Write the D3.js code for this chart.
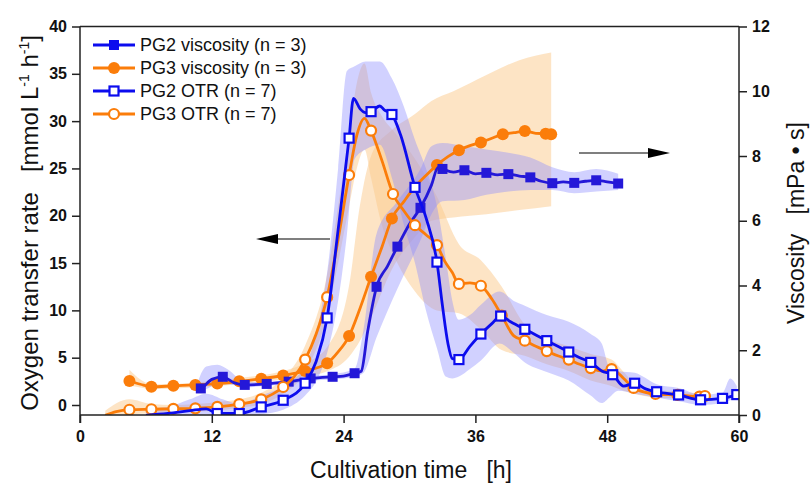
<!DOCTYPE html>
<html>
<head>
<meta charset="utf-8">
<script src="https://cdn.jsdelivr.net/npm/d3@7"></script>
<style>
  body { margin: 0; background: #fff; }
  text { font-family: Arial, "Liberation Sans", sans-serif; }
</style>
</head>
<body>
<div id="chart"></div>
<script>
// axis ticks
const hourTicks = [0, 12, 24, 36, 48, 60];
const otrTicks = [0, 5, 10, 15, 20, 25, 30, 35, 40];
const viscTicks = [0, 2, 4, 6, 8, 10, 12];

// mean curves: [hour, value, marker shown]
const pg2Otr = [[6,-1.1,0],[8,-0.9,0],[10,-0.6,0],[11.5,-0.4,0],[12.5,-0.9,1],[14.5,-0.9,1],[16.5,-0.2,1],[18.5,0.5,1],[20.5,2.3,1],[21.5,4.6,0],[22.5,9.2,1],[23.5,18.5,0],[24.5,28.2,1],[24.9,32.4,0],[25.5,31.3,0],[26,30.9,0],[26.5,31.0,1],[27.3,31.6,0],[27.7,31.2,0],[28.4,30.7,1],[29.2,28.5,0],[30.5,23.0,1],[31.5,19.8,0],[32.5,15.1,1],[33.0,10.5,0],[33.5,6.5,0],[33.9,4.9,0],[34.5,4.8,1],[35.5,6.2,0],[36.5,7.5,1],[37.5,8.6,0],[38.3,9.4,1],[39.2,8.8,0],[40.5,8.0,1],[41.5,7.4,0],[42.5,6.8,1],[43.5,6.2,0],[44.5,5.6,1],[45.5,5.0,0],[46.5,4.5,1],[47.5,3.6,0],[48.5,3.2,1],[49.5,2.0,0],[50.5,2.3,1],[51.5,1.7,0],[52.5,1.4,1],[54.5,1.06,1],[56.5,0.55,1],[58.5,0.7,1],[59.8,1.1,1]];
const pg3Otr = [[2.3,-1.1,0],[3.3,-0.7,0],[4.5,-0.5,1],[6.5,-0.45,1],[8.5,-0.4,1],[10.5,-0.35,1],[12.5,-0.2,1],[14.5,0.1,1],[16.5,0.6,1],[18.5,1.9,1],[19.5,3.0,0],[20.5,4.8,1],[21.5,7.5,0],[22.5,11.4,1],[23.5,17.5,0],[24.5,24.3,1],[25.2,28.5,0],[25.9,30.3,0],[26.5,29.0,1],[27.5,25.8,0],[28.5,22.3,1],[29.5,20.5,0],[30.5,19.0,1],[31.5,18.0,0],[32.5,16.9,1],[33.2,15.2,0],[33.9,14.0,0],[34.5,12.8,1],[35.5,12.9,0],[36.5,12.6,1],[37.5,11.2,0],[38.4,9.45,1],[39.5,7.3,0],[40.5,6.8,1],[41.5,6.2,0],[42.5,5.7,1],[43.5,5.2,0],[44.5,4.8,1],[45.5,4.3,0],[46.5,3.9,1],[47.5,3.6,0],[48.4,3.8,1],[49.5,2.8,0],[50.4,1.8,1],[52.4,1.16,1],[54.4,1.06,1],[56.4,0.88,1],[56.9,0.95,1]];
const pg2Visc = [[10.6,0.78,0],[11,0.82,1],[12,1.1,0],[13,1.18,1],[14,1.0,0],[15,0.93,1],[17,0.96,1],[19,1.03,1],[21,1.13,1],[23,1.18,1],[24,1.2,0],[25,1.29,1],[25.6,1.35,0],[26.2,2.6,0],[27,3.96,1],[28,4.6,0],[28.9,5.2,1],[30,5.9,0],[31,6.4,1],[32,7.1,0],[32.6,7.65,0],[33,7.6,1],[34,7.5,0],[35,7.56,1],[36,7.45,0],[37,7.48,1],[38,7.42,0],[39,7.44,1],[40,7.38,0],[41,7.34,1],[42,7.22,0],[43,7.16,1],[44,7.2,0],[45,7.17,1],[46,7.22,0],[47,7.25,1],[48,7.2,0],[49,7.15,1]];
const pg3Visc = [[4.5,1.05,1],[5.5,0.95,0],[6.5,0.87,1],[8.5,0.9,1],[10.5,0.93,1],[12.5,0.97,1],[14.5,1.04,1],[16.5,1.12,1],[18.5,1.22,1],[20.5,1.36,1],[22.5,1.6,1],[23.5,1.95,0],[24.5,2.44,1],[25.5,3.3,0],[26.5,4.27,1],[27.5,5.2,0],[28.4,6.07,1],[29.5,6.6,0],[30.5,7.05,0],[31.5,7.4,0],[32.5,7.72,1],[33.5,7.98,0],[34.5,8.18,1],[35.5,8.32,0],[36.5,8.42,1],[37.5,8.55,0],[38.5,8.67,1],[39.5,8.72,0],[40.5,8.77,1],[41.5,8.7,0],[42.4,8.69,1],[42.9,8.67,1]];

// spread bands: [hour, lower, upper]
const pg2OtrBand = [[6,-1.6,-0.4],[8,-1.5,-0.2],[10,-1.3,0.6],[11.5,-1.0,1.2],[13,-1.6,0.6],[14.5,-1.6,0.1],[16.5,-1.0,1.0],[18.5,-0.5,2.0],[20.5,1.0,4.2],[21.5,2.5,7.5],[22.5,5.5,14],[23.5,11,25],[24.3,18,35.3],[25,26,35.8],[26,27,36.3],[27.3,27.5,36.3],[28.4,24,34.5],[29.5,19,31.5],[30.5,15,28],[31.5,10,25],[32.5,6,21],[33.3,3,15.5],[33.9,2.8,11],[34.5,3.0,9],[35.5,3.8,9.5],[36.5,4.7,10.6],[38.2,6.5,12],[39.5,5.5,11],[40.5,4.5,10.5],[42.5,3.5,9.5],[44.5,2.6,8.8],[46.5,1.0,7.5],[47.5,0.2,6.5],[48.2,0.8,4.0],[49,1.5,3.6],[50.5,1.2,3.4],[52.5,0.8,2.2],[54.5,0.4,1.8],[56.5,0.0,1.1],[58.5,0.2,1.3],[59.2,0.5,2.8],[59.8,0.6,2.0]];
const pg3OtrBand = [[2.3,-1.6,-0.6],[4.5,-1.0,0.6],[6.5,-0.9,0.1],[8.5,-0.8,0],[10.5,-0.7,0.1],[12.5,-0.6,0.3],[14.5,-0.3,0.6],[16.5,0.1,1.3],[18.5,1.2,2.8],[20.5,3.5,6.3],[22.5,9.5,13.8],[23.5,15,21],[24.5,21,28.5],[25.2,25,34],[25.9,27,36.1],[26.5,24,33],[27.5,19,30.5],[28.5,16,29],[30.5,12,26],[32.5,10,22],[34.5,9.7,17],[36.5,8,15.3],[38.4,5.8,12.5],[40.5,5.2,8.5],[42.5,4.3,7],[44.5,3.6,6.2],[46.5,2.6,5.4],[48.4,2.0,4.8],[49.5,1.5,3.5],[50.4,1.2,2.4],[52.4,0.8,1.6],[54.4,0.7,1.4],[56.9,0.5,1.2]];
const pg2ViscBand = [[10.6,0.72,0.9],[11.5,0.8,1.5],[12.5,0.95,1.55],[13.5,0.95,1.4],[15,0.85,1.02],[17,0.9,1.03],[19,0.96,1.1],[21,1.06,1.2],[23,1.1,1.26],[25,1.18,1.42],[25.8,1.3,2.6],[27,2.4,5.6],[28.9,3.9,6.6],[31,5.4,7.6],[32,6.2,8.3],[33,6.6,8.4],[35,6.64,8.3],[37,6.8,8.2],[39,6.9,8.1],[41,6.95,7.95],[43,6.95,7.65],[45,6.85,7.5],[47,6.9,7.6],[49,6.95,7.45]];
const pg3ViscBand = [[4.5,0.9,1.4],[5.5,0.85,1.1],[6.5,0.8,0.95],[10.5,0.85,1.0],[14.5,0.95,1.14],[18.5,1.1,1.36],[20.5,1.2,1.6],[22.5,1.35,2.1],[24.5,1.8,4.0],[25.5,2.3,6.5],[26.5,3.0,8.0],[28.4,4.5,8.8],[30.5,5.5,9.3],[32,6.0,9.7],[34,6.1,10.0],[37,6.2,10.5],[40,6.33,10.96],[42.9,6.45,11.2]];

const legendLabels = ["PG2 viscosity (n = 3)", "PG3 viscosity (n = 3)", "PG2 OTR (n = 7)", "PG3 OTR (n = 7)"];

const width = 810, height = 488;
const blue = "#0c0cee", blueVisc = "#2418d8", orange = "#fb7d0a";

const svg = d3.select("#chart").append("svg")
    .attr("width", width)
    .attr("height", height);

const xScale = d3.scaleLinear().domain([0, 60]).range([80, 739]);
const yOtr = d3.scaleLinear().domain([0, 40]).range([405, 26.5]);
const yVisc = d3.scaleLinear().domain([0, 12]).range([415, 26.5]);

svg.append("clipPath").attr("id", "plotClip")
  .append("rect").attr("x", 80).attr("y", 26.5).attr("width", 659).attr("height", 388.5);

const plot = svg.append("g").attr("clip-path", "url(#plotClip)");

function band(data, yScale, fill, op) {
    const area = d3.area()
        .x(d => xScale(d[0]))
        .y0(d => yScale(d[1]))
        .y1(d => yScale(d[2]))
        .curve(d3.curveMonotoneX);
    plot.append("path").attr("d", area(data))
        .attr("fill", fill).attr("fill-opacity", op);
}

band(pg3ViscBand, yVisc, "#fcc98c", 0.5);
band(pg3OtrBand, yOtr, "#fcc98c", 0.5);
band(pg2ViscBand, yVisc, "#8d8dff", 0.4);
band(pg2OtrBand, yOtr, "#8d8dff", 0.4);

function series(data, yScale, color, shape) {
    const line = d3.line()
        .x(d => xScale(d[0]))
        .y(d => yScale(d[1]))
        .curve(d3.curveMonotoneX);
    plot.append("path").attr("d", line(data))
        .attr("fill", "none").attr("stroke", color)
        .attr("stroke-width", 2.8).attr("stroke-linejoin", "round");
    const marks = data.filter(d => d[2] === 1);
    drawMarks(plot, marks.map(d => [xScale(d[0]), yScale(d[1])]), color, shape);
}

function drawMarks(sel, pts, color, shape) {
    pts.forEach(p => {
        if (shape === "openSquare") {
            sel.append("rect").attr("x", p[0] - 4.5).attr("y", p[1] - 4.5)
                .attr("width", 9).attr("height", 9)
                .attr("fill", "#fff").attr("stroke", color).attr("stroke-width", 2.2);
        } else if (shape === "square") {
            sel.append("rect").attr("x", p[0] - 5).attr("y", p[1] - 5)
                .attr("width", 10).attr("height", 10).attr("fill", color);
        } else if (shape === "openCircle") {
            sel.append("circle").attr("cx", p[0]).attr("cy", p[1]).attr("r", 5)
                .attr("fill", "#fff").attr("stroke", color).attr("stroke-width", 2.2);
        } else {
            sel.append("circle").attr("cx", p[0]).attr("cy", p[1]).attr("r", 6)
                .attr("fill", color);
        }
    });
}

series(pg3Visc, yVisc, orange, "circle");
series(pg2Visc, yVisc, blueVisc, "square");
series(pg3Otr, yOtr, orange, "openCircle");
series(pg2Otr, yOtr, blue, "openSquare");

// frame and axes
const axisCol = "#222";
svg.append("line").attr("x1", 80).attr("x2", 739).attr("y1", 26.5).attr("y2", 26.5)
    .attr("stroke", axisCol).attr("stroke-width", 1.5);

const xAxis = d3.axisBottom(xScale).tickValues(hourTicks).tickSize(8).tickPadding(8);
const gx = svg.append("g").attr("transform", "translate(0,415)").call(xAxis);

const yAxisL = d3.axisLeft(yOtr).tickValues(otrTicks).tickSize(8).tickPadding(5);
const gl = svg.append("g").attr("transform", "translate(80,0)").call(yAxisL);

const yAxisR = d3.axisRight(yVisc).tickValues(viscTicks).tickSize(8).tickPadding(5);
const gr = svg.append("g").attr("transform", "translate(739,0)").call(yAxisR);

[gx, gl, gr].forEach(g => {
    g.select(".domain").remove();
    g.selectAll(".tick line").attr("stroke", axisCol).attr("stroke-width", 1.5);
    g.selectAll(".tick text").attr("fill", "#111")
        .style("font-size", "16px").style("font-weight", "bold")
        .style("font-family", "Arial, 'Liberation Sans', sans-serif");
});
svg.append("line").attr("x1", 80).attr("x2", 739).attr("y1", 415).attr("y2", 415)
    .attr("stroke", axisCol).attr("stroke-width", 1.5);
svg.append("line").attr("x1", 80).attr("x2", 80).attr("y1", 26.5).attr("y2", 423)
    .attr("stroke", axisCol).attr("stroke-width", 1.5);
svg.append("line").attr("x1", 739).attr("x2", 739).attr("y1", 26.5).attr("y2", 423)
    .attr("stroke", axisCol).attr("stroke-width", 1.5);

// axis titles
svg.append("text").attr("x", 411).attr("y", 478).attr("text-anchor", "middle")
    .style("font-size", "23px").attr("fill", "#111")
    .text("Cultivation time\u00a0\u00a0\u00a0[h]");

const lt = svg.append("text")
    .attr("transform", "translate(38,223) rotate(-90)")
    .attr("text-anchor", "middle").style("font-size", "24px").attr("fill", "#111");
lt.append("tspan").text("Oxygen transfer rate\u00a0\u00a0\u00a0[mmol L");
lt.append("tspan").attr("dy", -9).style("font-size", "14px").text("-1");
lt.append("tspan").attr("dy", 9).text(" h");
lt.append("tspan").attr("dy", -9).style("font-size", "14px").text("-1");
lt.append("tspan").attr("dy", 9).text("]");

svg.append("text").attr("transform", "translate(804,223) rotate(-90)")
    .attr("text-anchor", "middle").style("font-size", "23px").attr("fill", "#111")
    .text("Viscosity\u00a0\u00a0\u00a0[mPa \u2022 s]");

// direction arrows
function arrow(x1, x2, y) {
    const dir = Math.sign(x2 - x1);
    svg.append("line").attr("x1", x1).attr("x2", x2 - dir * 18).attr("y1", y).attr("y2", y)
        .attr("stroke", "#555").attr("stroke-width", 1.6);
    svg.append("path")
        .attr("d", `M${x2},${y} L${x2 - dir * 22},${y - 5} L${x2 - dir * 22},${y + 5} Z`)
        .attr("fill", "#000");
}
arrow(330, 256, 239);
arrow(579, 670, 153);

// legend
const legendShapes = ["square", "circle", "openSquare", "openCircle"];
const legendColors = [blue, orange, blue, orange];
const legend = svg.append("g");
legendLabels.forEach((label, i) => {
    const y = 45 + i * 23;
    legend.append("line").attr("x1", 93).attr("x2", 135).attr("y1", y).attr("y2", y)
        .attr("stroke", legendColors[i]).attr("stroke-width", 2.8);
    drawMarks(legend, [[114, y]], legendColors[i], legendShapes[i]);
    legend.append("text").attr("x", 140).attr("y", y + 6)
        .style("font-size", "18px").attr("fill", "#111").text(label);
});
</script>
</body>
</html>
